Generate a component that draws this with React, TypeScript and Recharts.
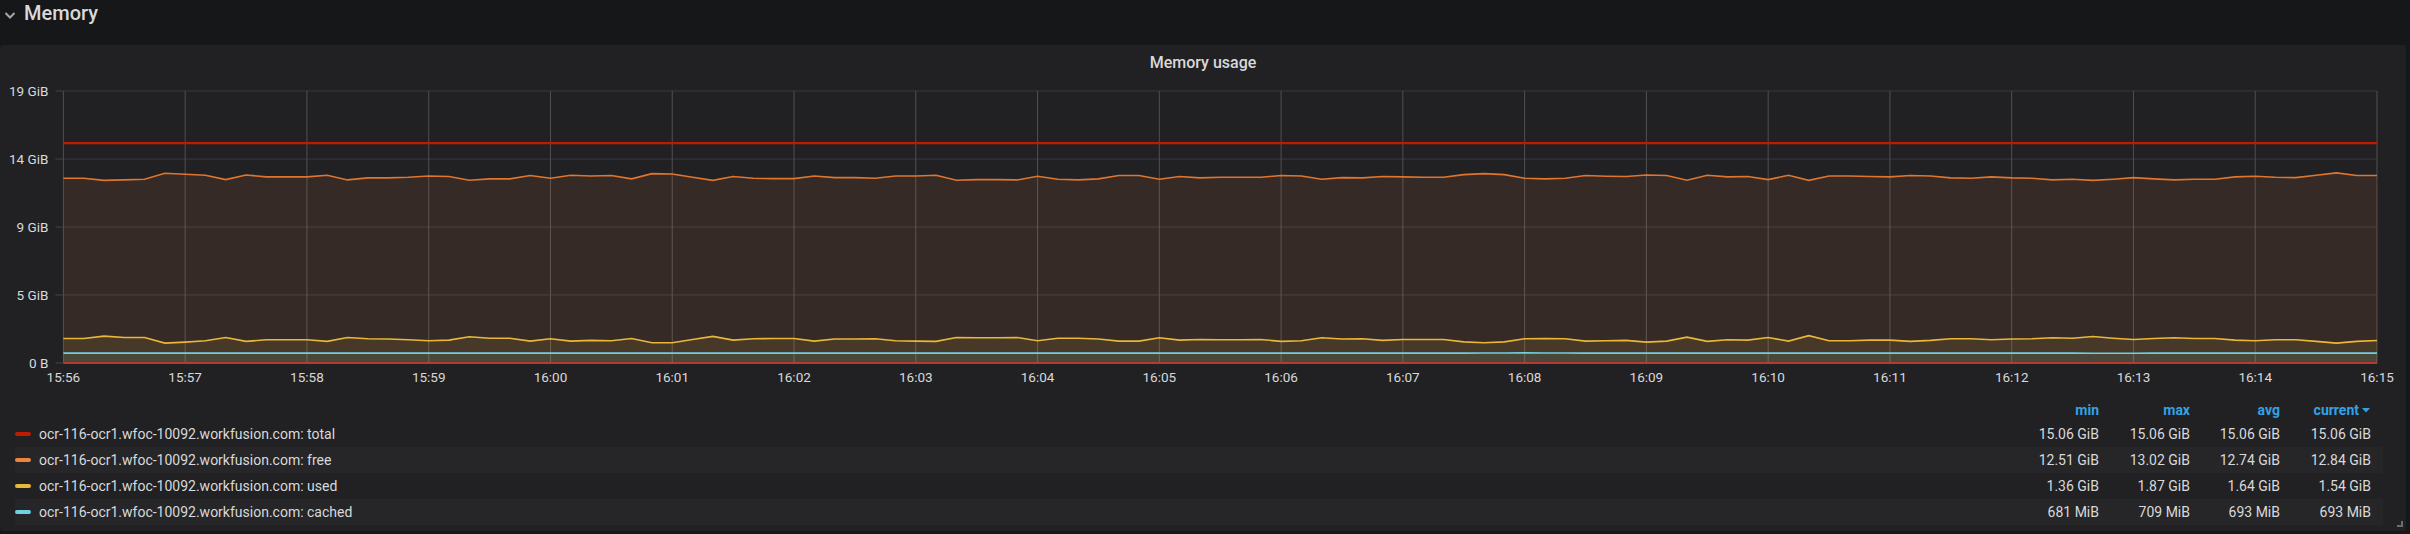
import React from "react";
import { ComposedChart, Area, Line, XAxis, YAxis, CartesianGrid, ReferenceLine } from "recharts";

// sampling: one point every 10 s from 15:56:00 to 16:15:00
const stepSeconds = 10;

const minuteLabels = [
  "15:56", "15:57", "15:58", "15:59", "16:00", "16:01", "16:02", "16:03", "16:04", "16:05",
  "16:06", "16:07", "16:08", "16:09", "16:10", "16:11", "16:12", "16:13", "16:14", "16:15",
];

const yTicks = [0, 4.66, 9.31, 13.97, 18.63];

const totalGiB = [
  15.06, 15.06, 15.06, 15.06, 15.06, 15.06, 15.06, 15.06, 15.06, 15.06,
  15.06, 15.06, 15.06, 15.06, 15.06, 15.06, 15.06, 15.06, 15.06, 15.06,
  15.06, 15.06, 15.06, 15.06, 15.06, 15.06, 15.06, 15.06, 15.06, 15.06,
  15.06, 15.06, 15.06, 15.06, 15.06, 15.06, 15.06, 15.06, 15.06, 15.06,
  15.06, 15.06, 15.06, 15.06, 15.06, 15.06, 15.06, 15.06, 15.06, 15.06,
  15.06, 15.06, 15.06, 15.06, 15.06, 15.06, 15.06, 15.06, 15.06, 15.06,
  15.06, 15.06, 15.06, 15.06, 15.06, 15.06, 15.06, 15.06, 15.06, 15.06,
  15.06, 15.06, 15.06, 15.06, 15.06, 15.06, 15.06, 15.06, 15.06, 15.06,
  15.06, 15.06, 15.06, 15.06, 15.06, 15.06, 15.06, 15.06, 15.06, 15.06,
  15.06, 15.06, 15.06, 15.06, 15.06, 15.06, 15.06, 15.06, 15.06, 15.06,
  15.06, 15.06, 15.06, 15.06, 15.06, 15.06, 15.06, 15.06, 15.06, 15.06,
  15.06, 15.06, 15.06, 15.06, 15.06,
];

const freeGiB = [
  12.65, 12.65, 12.51, 12.54, 12.59, 13.0, 12.93, 12.86, 12.56, 12.88,
  12.75, 12.75, 12.75, 12.86, 12.54, 12.68, 12.68, 12.72, 12.81, 12.77,
  12.52, 12.61, 12.61, 12.84, 12.65, 12.86, 12.81, 12.84, 12.61, 12.97,
  12.95, 12.72, 12.51, 12.77, 12.65, 12.63, 12.63, 12.81, 12.7, 12.7,
  12.65, 12.81, 12.81, 12.86, 12.52, 12.56, 12.56, 12.54, 12.79, 12.59,
  12.54, 12.61, 12.84, 12.84, 12.59, 12.77, 12.68, 12.72, 12.72, 12.72,
  12.84, 12.81, 12.59, 12.7, 12.68, 12.77, 12.75, 12.72, 12.72, 12.9,
  12.97, 12.9, 12.65, 12.61, 12.65, 12.84, 12.79, 12.77, 12.88, 12.84,
  12.52, 12.86, 12.75, 12.77, 12.56, 12.86, 12.51, 12.81, 12.81, 12.77,
  12.75, 12.84, 12.81, 12.68, 12.65, 12.75, 12.68, 12.65, 12.54, 12.59,
  12.51, 12.59, 12.7, 12.61, 12.54, 12.59, 12.59, 12.75, 12.79, 12.72,
  12.7, 12.86, 13.02, 12.84, 12.84,
];

const usedGiB = [
  1.68, 1.68, 1.84, 1.75, 1.75, 1.36, 1.43, 1.52, 1.75, 1.48,
  1.59, 1.59, 1.59, 1.48, 1.75, 1.66, 1.64, 1.59, 1.52, 1.57,
  1.8, 1.7, 1.7, 1.5, 1.66, 1.5, 1.55, 1.52, 1.68, 1.39,
  1.39, 1.61, 1.82, 1.57, 1.66, 1.68, 1.68, 1.5, 1.64, 1.64,
  1.66, 1.52, 1.5, 1.48, 1.75, 1.73, 1.73, 1.75, 1.52, 1.7,
  1.7, 1.64, 1.5, 1.5, 1.73, 1.57, 1.61, 1.59, 1.59, 1.61,
  1.48, 1.52, 1.73, 1.64, 1.66, 1.55, 1.61, 1.61, 1.61, 1.45,
  1.39, 1.45, 1.66, 1.68, 1.66, 1.5, 1.52, 1.55, 1.43, 1.5,
  1.77, 1.48, 1.59, 1.57, 1.75, 1.5, 1.87, 1.52, 1.52, 1.57,
  1.57, 1.48, 1.55, 1.66, 1.66, 1.59, 1.64, 1.66, 1.73, 1.7,
  1.82, 1.7, 1.61, 1.68, 1.73, 1.68, 1.68, 1.57, 1.52, 1.59,
  1.59, 1.48, 1.36, 1.48, 1.54,
];

const cachedMiB = [
  690, 690, 691, 691, 692, 692, 692, 693, 693, 693,
  693, 693, 692, 692, 693, 693, 693, 694, 694, 693,
  693, 692, 692, 693, 693, 693, 694, 694, 694, 693,
  693, 693, 692, 692, 692, 693, 693, 693, 694, 694,
  693, 693, 693, 692, 692, 693, 693, 694, 694, 693,
  693, 693, 692, 692, 693, 693, 693, 694, 695, 695,
  694, 694, 693, 693, 693, 692, 692, 693, 693, 694,
  698, 704, 709, 705, 699, 695, 694, 693, 693, 693,
  692, 692, 693, 693, 693, 694, 694, 693, 693, 692,
  692, 693, 693, 693, 693, 694, 694, 693, 693, 692,
  681, 684, 688, 691, 692, 693, 693, 693, 694, 694,
  693, 693, 693, 693, 693,
];

const seriesNames = ["total", "free", "used", "cached"];
const seriesColors = ["#bf1b00", "#ef843c", "#eab839", "#6ed0e0"];
const statHeaders = ["min", "max", "avg", "current"];
const statMin = ["15.06 GiB", "12.51 GiB", "1.36 GiB", "681 MiB"];
const statMax = ["15.06 GiB", "13.02 GiB", "1.87 GiB", "709 MiB"];
const statAvg = ["15.06 GiB", "12.74 GiB", "1.64 GiB", "693 MiB"];
const statCurrent = ["15.06 GiB", "12.84 GiB", "1.54 GiB", "693 MiB"];
const hostPrefix = "ocr-116-ocr1.wfoc-10092.workfusion.com: ";

const data = freeGiB.map((free, i) => ({
  t: i * stepSeconds,
  total: totalGiB[i],
  free,
  used: usedGiB[i],
  cached: cachedMiB[i] / 1024,
}));

const xTicks = minuteLabels.map((_, i) => i * 60);

const font = "Roboto, 'Noto Sans', sans-serif";
const textColor = "#d8d9da";
const statRight = [2099, 2190, 2280, 2371];

export default function App() {
  const statCols = [statMin, statMax, statAvg, statCurrent];
  return (
    <div
      style={{
        position: "absolute",
        left: 0,
        top: 0,
        width: 2410,
        height: 534,
        background: "#161719",
        fontFamily: font,
        overflow: "hidden",
      }}
    >
      {/* row header */}
      <svg style={{ position: "absolute", left: 4, top: 11 }} width={12} height={9}>
        <polyline points="1.5,2 6,6.5 10.5,2" fill="none" stroke="#9fa7b3" strokeWidth={2} />
      </svg>
      <div
        style={{
          position: "absolute",
          left: 24,
          top: -1,
          fontSize: 20,
          fontWeight: 500,
          color: textColor,
          lineHeight: "28px",
        }}
      >
        Memory
      </div>

      {/* panel */}
      <div
        style={{
          position: "absolute",
          left: 0,
          top: 45,
          width: 2406,
          height: 486,
          background: "#212124",
          borderRadius: 3,
        }}
      />
      <div
        style={{
          position: "absolute",
          left: 0,
          width: 2406,
          top: 53,
          textAlign: "center",
          fontSize: 16,
          fontWeight: 500,
          color: textColor,
          lineHeight: "20px",
        }}
      >
        Memory usage
      </div>

      <div style={{ position: "absolute", left: 0, top: 80 }}>
        <ComposedChart
          width={2406}
          height={313}
          data={data}
          margin={{ top: 11, right: 29, bottom: 0, left: 0 }}
        >
          <CartesianGrid vertical={false} stroke="#3b3b3e" strokeWidth={1} />
          <CartesianGrid horizontal={false} stroke="#505053" strokeWidth={1} />
          <XAxis
            dataKey="t"
            type="number"
            domain={[0, 1140]}
            ticks={xTicks}
            tickFormatter={(v: number) => minuteLabels[Math.round(v / 60)]}
            axisLine={false}
            tickLine={false}
            tickSize={0}
            tickMargin={9}
            height={30}
            interval={0}
            tick={{ fill: textColor, fontSize: 13.5, fontFamily: font }}
          />
          <YAxis
            type="number"
            domain={[0, 18.63]}
            ticks={yTicks}
            tickFormatter={(v: number) => (v === 0 ? "0 B" : `${Math.round(v)} GiB`)}
            axisLine={false}
            tickLine={{ stroke: "#444447" }}
            tickSize={8}
            tickMargin={7}
            width={63.4}
            interval={0}
            tick={{ fill: textColor, fontSize: 13.5, fontFamily: font }}
          />
          <Area
            type="linear"
            dataKey="free"
            stroke="#e0752d"
            strokeWidth={1.6}
            fill="#ef843c"
            fillOpacity={0.1}
            dot={false}
            activeDot={false}
            isAnimationActive={false}
          />
          <Area
            type="linear"
            dataKey="used"
            stroke="#eab839"
            strokeWidth={1.6}
            fill="#eab839"
            fillOpacity={0.1}
            dot={false}
            activeDot={false}
            isAnimationActive={false}
          />
          <Area
            type="linear"
            dataKey="cached"
            stroke="#6ed0e0"
            strokeWidth={1.6}
            fill="#6ed0e0"
            fillOpacity={0.1}
            dot={false}
            activeDot={false}
            isAnimationActive={false}
          />
          <Line
            type="linear"
            dataKey="total"
            stroke="#bf1b00"
            strokeWidth={2.2}
            dot={false}
            activeDot={false}
            isAnimationActive={false}
          />
          <ReferenceLine y={0} stroke="#b8392f" strokeWidth={2} />
        </ComposedChart>
      </div>

      {/* legend table */}
      {statHeaders.map((h, c) => (
        <div
          key={h}
          style={{
            position: "absolute",
            right: 2410 - statRight[c],
            top: 401,
            fontSize: 14,
            fontWeight: 700,
            color: "#33a2e5",
            lineHeight: "18px",
            display: "flex",
            alignItems: "center",
          }}
        >
          {h}
          {c === 3 ? (
            <svg width={10} height={8} style={{ marginLeft: 2 }}>
              <polygon points="1,2 9,2 5,6.5" fill="#33a2e5" />
            </svg>
          ) : null}
        </div>
      ))}
      {seriesNames.map((name, r) => (
        <div
          key={name}
          style={{
            position: "absolute",
            left: 15,
            top: 421 + r * 26,
            width: 2368,
            height: 26,
            background: r % 2 === 1 ? "#262629" : "transparent",
            fontSize: 14,
            color: textColor,
            lineHeight: "26px",
          }}
        >
          <div
            style={{
              position: "absolute",
              left: 0,
              top: 11,
              width: 16,
              height: 4,
              borderRadius: 2,
              background: seriesColors[r],
            }}
          />
          <span style={{ position: "absolute", left: 24, top: 0, whiteSpace: "nowrap" }}>
            {hostPrefix + name}
          </span>
          {statCols.map((col, c) => (
            <span
              key={c}
              style={{
                position: "absolute",
                right: 2383 - statRight[c],
                top: 0,
                whiteSpace: "nowrap",
              }}
            >
              {col[r]}
            </span>
          ))}
        </div>
      ))}
      {/* resize handle */}
      <div
        style={{
          position: "absolute",
          left: 2397,
          top: 521,
          width: 4,
          height: 4,
          borderRight: "2px solid #6c6c6f",
          borderBottom: "2px solid #6c6c6f",
        }}
      />
    </div>
  );
}
